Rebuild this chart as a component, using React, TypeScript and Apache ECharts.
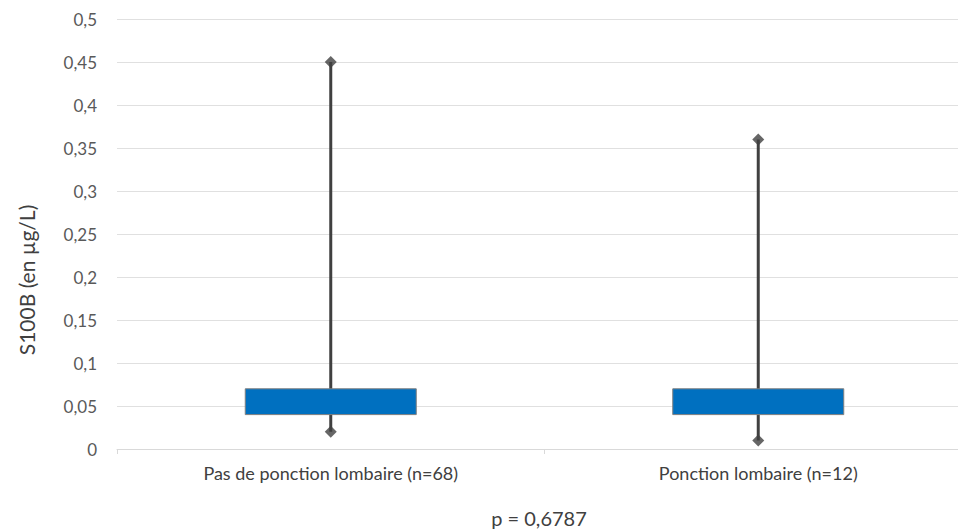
import React, { useEffect, useRef } from "react";
import * as echarts from "echarts";

const categories = ["Pas de ponction lombaire (n=68)", "Ponction lombaire (n=12)"];
const minValues = [0.02, 0.01];
const q1Values = [0.04, 0.04];
const q3Values = [0.07, 0.07];
const maxValues = [0.45, 0.36];
const yTicks = { min: 0, max: 0.5, interval: 0.05 };
const yAxisTitle = "S100B (en µg/L)";
const pValueText = "p = 0,6787";

const FONT = "Lato, 'Open Sans', sans-serif";

export default function App() {
  const ref = useRef<HTMLDivElement>(null);
  useEffect(() => {
    if (!ref.current) return;
    const chart = echarts.init(ref.current, null, { renderer: "svg" });
    const boxData = categories.map((_, i) => [i, minValues[i], q1Values[i], q3Values[i], maxValues[i]]);
    const endPoints: [number, number][] = [];
    categories.forEach((_, i) => {
      endPoints.push([i, minValues[i]]);
      endPoints.push([i, maxValues[i]]);
    });
    chart.setOption({
      animation: false,
      grid: { left: 117, top: 19, bottom: 80, right: 8, containLabel: false },
      xAxis: {
        type: "category",
        data: categories,
        boundaryGap: true,
        axisLine: { lineStyle: { color: "#d9d9d9", width: 1 } },
        axisTick: { show: true, length: 5, lineStyle: { color: "#d9d9d9" } },
        axisLabel: { color: "#404040", fontSize: 18, fontFamily: FONT, margin: 15 },
      },
      yAxis: {
        type: "value",
        min: yTicks.min,
        max: yTicks.max,
        interval: yTicks.interval,
        axisLine: { show: false },
        axisTick: { show: false },
        splitLine: { lineStyle: { color: "#e0e0e0", width: 1 } },
        axisLabel: {
          color: "#595959",
          fontSize: 17,
          fontFamily: FONT,
          margin: 20,
          formatter: (v: number) => String(Math.round(v * 100) / 100).replace(".", ","),
        },
      },
      graphic: [
        {
          type: "text",
          x: 26,
          y: 280,
          rotation: Math.PI / 2,
          style: {
            text: yAxisTitle,
            fill: "#404040",
            fontSize: 21,
            fontFamily: FONT,
            align: "center",
            verticalAlign: "middle",
          },
        },
        {
          type: "text",
          x: 539,
          y: 518,
          style: {
            text: pValueText,
            fill: "#404040",
            fontSize: 20,
            fontFamily: FONT,
            align: "center",
            verticalAlign: "middle",
          },
        },
      ],
      series: [
        {
          type: "custom",
          data: boxData,
          encode: { x: 0, y: [1, 2, 3, 4] },
          renderItem: (params: any, api: any) => {
            const x = api.value(0);
            const lowP = api.coord([x, api.value(1)]);
            const q1P = api.coord([x, api.value(2)]);
            const q3P = api.coord([x, api.value(3)]);
            const highP = api.coord([x, api.value(4)]);
            const bw = api.size([1, 0])[0] * 0.4;
            return {
              type: "group",
              children: [
                {
                  type: "line",
                  shape: { x1: lowP[0], y1: lowP[1], x2: highP[0], y2: highP[1] },
                  style: { stroke: "#404040", lineWidth: 3 },
                },
                {
                  type: "rect",
                  shape: { x: q3P[0] - bw / 2, y: q3P[1], width: bw, height: q1P[1] - q3P[1] },
                  style: { fill: "#0070C0", stroke: "#7f7f7f", lineWidth: 1 },
                },
              ],
            };
          },
          z: 2,
        },
        {
          type: "scatter",
          data: endPoints,
          symbol: "diamond",
          symbolSize: 12,
          itemStyle: { color: "#404040" },
          z: 3,
        },
      ],
    });
    return () => chart.dispose();
  }, []);
  return (
    <div style={{ width: 958, height: 529, position: "absolute", left: 0, top: 0, overflow: "hidden" }}>
      <div ref={ref} style={{ width: 980, height: 529 }} />
    </div>
  );
}
